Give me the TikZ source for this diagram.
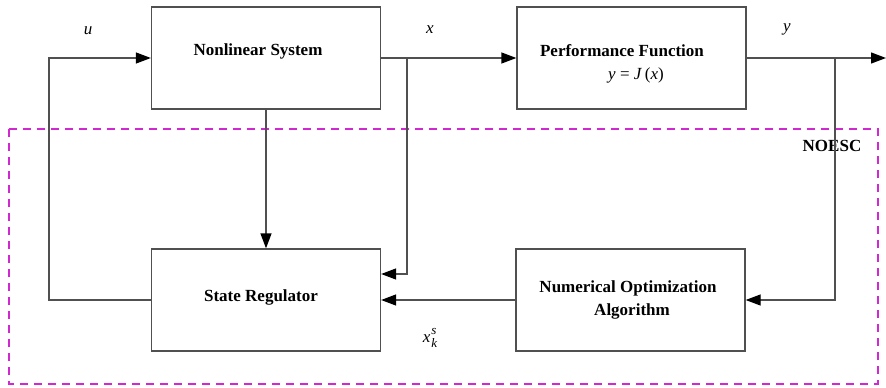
\documentclass[tikz,border=0pt]{standalone}
\usepackage{fontspec}
\setmainfont{Liberation Serif}
\usetikzlibrary{arrows.meta}
\definecolor{linegray}{RGB}{80,80,80}
\definecolor{noescmag}{RGB}{210,40,210}
\begin{document}
\begin{tikzpicture}[x=1pt,y=-1pt,
  blockbox/.style={draw=linegray,line width=1.3pt,minimum width=229pt,minimum height=102pt,inner sep=0pt},
  btext/.style={font=\fontsize{17}{20}\selectfont\bfseries,align=center,inner sep=0pt},
  vlabel/.style={font=\fontsize{17}{20}\selectfont\itshape,inner sep=0pt},
  conn/.style={draw=linegray,line width=1.3pt},
  arr/.style={conn,-{Triangle[length=15pt 0,width=11pt 0,color=black,fill=black]}}
]
\useasboundingbox (0,0) rectangle (886,388);
% dashed NOESC frame
\draw[noescmag,line width=1.3pt,dash pattern=on 8pt off 6pt] (9,129) rectangle (878,384);
\node[btext] (noesc) at (832,146) {NOESC};
% blocks
\node[blockbox] (ns) at (266,58) {};
\node[blockbox] (pf) at (631.5,58) {};
\node[blockbox] (sr) at (266,300) {};
\node[blockbox] (noa) at (630.5,300) {};
\node[btext] (nst) at (258,51) {Nonlinear System};
\node[btext] (pft) at (622,51) {Performance Function};
\node[inner sep=0pt,font=\fontsize{17}{20}\selectfont] (pfe) at (636,75) {\textit{y} = \textit{J}\,(\textit{x})};
\node[btext] (srt) at (261,297) {State Regulator};
\node[btext,align=center] (noat) at (628,300) {Numerical Optimization\\[3pt]\hspace*{8pt}Algorithm};
% labels
\node[vlabel] (lu) at (88,31) {u};
\node[vlabel] (lx) at (430,30) {x};
\node[vlabel] (ly) at (787,29) {y};
\node[inner sep=0pt,font=\fontsize{17}{20}\selectfont\itshape] (lxk) at (430,338) {x\kern1pt\raisebox{-5pt}{\fontsize{13}{14}\selectfont\shortstack[l]{s\\k}}};
% coordinates
\coordinate (bx1) at (407,58);
\coordinate (bx2) at (407,274);
\coordinate (by1) at (835,58);
\coordinate (by2) at (835,300);
\coordinate (yout) at (886,58);
\coordinate (fb1) at (49,300);
\coordinate (fb2) at (49,58);
% connectors
\draw[arr] (ns.east) -- (pf.west);
\draw[arr] (pf.east) -- (yout);
\draw[arr] (bx1) -- (bx2) -- (bx2 -| sr.east);
\draw[arr] (ns.south) -- (sr.north);
\draw[arr] (by1) -- (by2) -- (noa.east);
\draw[arr] (noa.west) -- (sr.east);
\draw[arr] (sr.west) -- (fb1) -- (fb2) -- (ns.west);
\end{tikzpicture}
\end{document}
